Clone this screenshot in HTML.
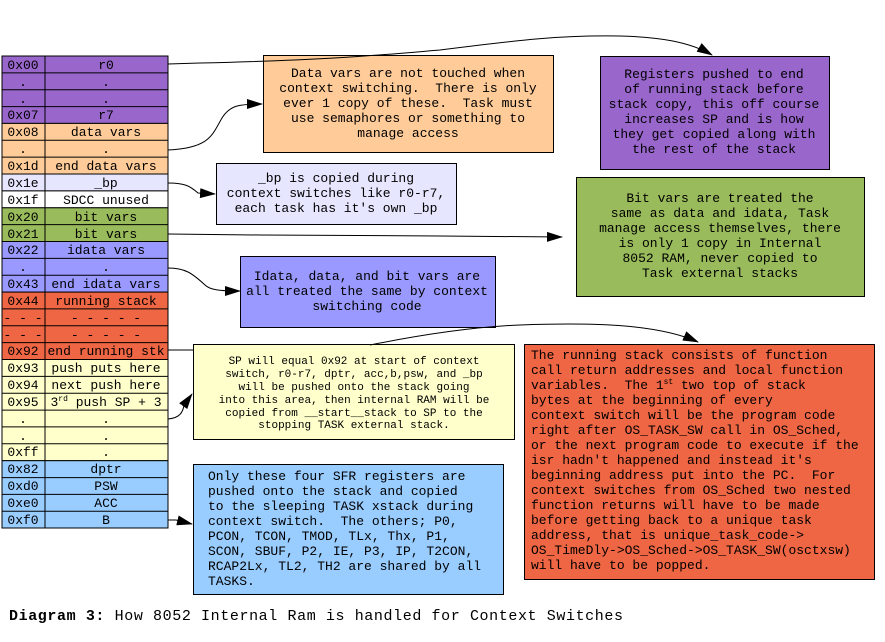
<!DOCTYPE html>
<html><head><meta charset="utf-8"><style>
html,body{margin:0;padding:0;background:#fff;}
svg{display:block;}
text{font-family:"Liberation Mono",monospace;font-size:13px;fill:#000;white-space:pre;}
.s{font-size:11px;}
</style></head><body>
<svg width="885" height="642" viewBox="0 0 885 642" xmlns="http://www.w3.org/2000/svg" xml:space="preserve">
<defs><marker id="a" markerWidth="16" markerHeight="10" refX="15" refY="5" orient="auto" markerUnits="userSpaceOnUse"><path d="M0,0 L16,5 L0,10 Z" fill="#000"/></marker></defs>
<g stroke="#000" stroke-width="1">
<rect x="2" y="56" width="166" height="67.4" fill="#9966cc"/>
<rect x="2" y="123.4" width="166" height="50.6" fill="#ffcc99"/>
<rect x="2" y="174" width="166" height="16.9" fill="#e6e6ff"/>
<rect x="2" y="190.9" width="166" height="16.9" fill="#ffffff"/>
<rect x="2" y="207.8" width="166" height="33.7" fill="#99bb5c"/>
<rect x="2" y="241.5" width="166" height="50.6" fill="#9999ff"/>
<rect x="2" y="292.1" width="166" height="67.4" fill="#ee6644"/>
<rect x="2" y="359.5" width="166" height="101.2" fill="#ffffcc"/>
<rect x="2" y="460.7" width="166" height="67.3" fill="#99ccff"/>
<line x1="45" y1="56" x2="45" y2="528"/>
</g>
<g stroke="#000" stroke-width="1">
<rect x="263.5" y="55.5" width="290" height="97" fill="#ffcc99"/>
<rect x="600.5" y="56.5" width="229" height="113" fill="#9966cc"/>
<rect x="216.5" y="163.5" width="240" height="61" fill="#e6e6ff"/>
<rect x="576.5" y="177.5" width="288" height="119" fill="#99bb5c"/>
<rect x="240.5" y="256.5" width="255" height="71" fill="#9999ff"/>
<rect x="193.5" y="344.5" width="321" height="95" fill="#ffffcc"/>
<rect x="524.5" y="344.5" width="350" height="235" fill="#ee6644"/>
<rect x="193.5" y="464.5" width="310" height="130" fill="#99ccff"/>
</g>
<g stroke="#000" stroke-width="1" fill="none">
<path d="M168,64 L200,63 C330,60 380,55 440,50 C520,40 560,35 620,36 C660,37 690,42 712,55" marker-end="url(#a)"/>
<path d="M168,150 C210,148 212,135 222,118 C230,105 240,104 262,104" marker-end="url(#a)"/>
<path d="M168,183 C185,183 190,186 198,193 L215,194" marker-end="url(#a)"/>
<path d="M168,234 L260,235 L440,236 L562,237" marker-end="url(#a)"/>
<path d="M168,268 C185,268 192,273 205,285 C210,290 220,291 240,291" marker-end="url(#a)"/>
<path d="M168,350 L193,350"/>
<path d="M370,345 C420,335 470,327 520,325 C600,322 660,325 698,342" marker-end="url(#a)"/>
<path d="M168,419 C180,418 183,412 184,405 L192,394" marker-end="url(#a)"/>
<path d="M168,520 L176,520 L192,524" marker-end="url(#a)"/>
</g>
<g text-anchor="middle">
<text x="23" y="69">0x00</text><text x="106" y="69">r0</text>
<text x="23" y="86">.</text><text x="106" y="86">.</text>
<text x="23" y="103">.</text><text x="106" y="103">.</text>
<text x="23" y="119">0x07</text><text x="106" y="119">r7</text>
<text x="23" y="136">0x08</text><text x="106" y="136">data vars</text>
<text x="23" y="153">.</text><text x="106" y="153">.</text>
<text x="23" y="170">0x1d</text><text x="106" y="170">end data vars</text>
<text x="23" y="187">0x1e</text><text x="106" y="187">_bp</text>
<text x="23" y="204">0x1f</text><text x="106" y="204">SDCC unused</text>
<text x="23" y="221">0x20</text><text x="106" y="221">bit vars</text>
<text x="23" y="238">0x21</text><text x="106" y="238">bit vars</text>
<text x="23" y="254">0x22</text><text x="106" y="254">idata vars</text>
<text x="23" y="271">.</text><text x="106" y="271">.</text>
<text x="23" y="288">0x43</text><text x="106" y="288">end idata vars</text>
<text x="23" y="305">0x44</text><text x="106" y="305">running stack</text>
<text x="23" y="322">- - -</text><text x="106" y="322">- - - - -</text>
<text x="23" y="339">- - -</text><text x="106" y="339">- - - - -</text>
<text x="23" y="355">0x92</text><text x="106" y="355">end running stk</text>
<text x="23" y="372">0x93</text><text x="106" y="372">push puts here</text>
<text x="23" y="389">0x94</text><text x="106" y="389">next push here</text>
<text x="23" y="406">0x95</text><text x="106" y="406">3<tspan font-size="8" dy="-5">rd</tspan><tspan dy="5"> push SP + 3</tspan></text>
<text x="23" y="423">.</text><text x="106" y="423">.</text>
<text x="23" y="440">.</text><text x="106" y="440">.</text>
<text x="23" y="456">0xff</text><text x="106" y="456">.</text>
<text x="23" y="473">0x82</text><text x="106" y="473">dptr</text>
<text x="23" y="490">0xd0</text><text x="106" y="490">PSW</text>
<text x="23" y="507">0xe0</text><text x="106" y="507">ACC</text>
<text x="23" y="524">0xf0</text><text x="106" y="524">B</text>
</g>
<g stroke="#000" stroke-width="1">
<line x1="2" y1="72.9" x2="168" y2="72.9"/><line x1="2" y1="89.7" x2="168" y2="89.7"/><line x1="2" y1="106.6" x2="168" y2="106.6"/>
<line x1="2" y1="140.3" x2="168" y2="140.3"/><line x1="2" y1="157.1" x2="168" y2="157.1"/>
<line x1="2" y1="224.6" x2="168" y2="224.6"/><line x1="2" y1="258.4" x2="168" y2="258.4"/><line x1="2" y1="275.2" x2="168" y2="275.2"/>
<line x1="2" y1="308.9" x2="168" y2="308.9"/><line x1="2" y1="325.8" x2="168" y2="325.8"/><line x1="2" y1="342.6" x2="168" y2="342.6"/>
<line x1="2" y1="376.4" x2="168" y2="376.4"/><line x1="2" y1="393.2" x2="168" y2="393.2"/><line x1="2" y1="410.1" x2="168" y2="410.1"/><line x1="2" y1="426.9" x2="168" y2="426.9"/><line x1="2" y1="443.8" x2="168" y2="443.8"/>
<line x1="2" y1="477.6" x2="168" y2="477.6"/><line x1="2" y1="494.4" x2="168" y2="494.4"/><line x1="2" y1="511.3" x2="168" y2="511.3"/>
</g>
<g text-anchor="middle">
<text x="408" y="77">Data vars are not touched when</text>
<text x="408" y="92">context switching.  There is only</text>
<text x="408" y="107">ever 1 copy of these.  Task must</text>
<text x="408" y="122">use semaphores or something to</text>
<text x="408" y="137">manage access</text>
<text x="714" y="78">Registers pushed to end</text>
<text x="714" y="93">of running stack before</text>
<text x="714" y="108">stack copy, this off course</text>
<text x="714" y="123">increases SP and is how</text>
<text x="714" y="138">they get copied along with</text>
<text x="714" y="153">the rest of the stack</text>
<text x="336" y="182">_bp is copied during</text>
<text x="336" y="197">context switches like r0-r7,</text>
<text x="336" y="212">each task has it's own _bp</text>
<text x="720" y="202">Bit vars are treated the</text>
<text x="720" y="217">same as data and idata, Task</text>
<text x="720" y="232">manage access themselves, there</text>
<text x="720" y="247">is only 1 copy in Internal</text>
<text x="720" y="262">8052 RAM, never copied to</text>
<text x="720" y="277">Task external stacks</text>
<text x="367" y="280">Idata, data, and bit vars are</text>
<text x="367" y="295">all treated the same by context</text>
<text x="367" y="310">switching code</text>
<text class="s" x="354" y="364">SP will equal 0x92 at start of context</text>
<text class="s" x="354" y="377">switch, r0-r7, dptr, acc,b,psw, and _bp</text>
<text class="s" x="354" y="390">will be pushed onto the stack going</text>
<text class="s" x="354" y="403">into this area, then internal RAM will be</text>
<text class="s" x="354" y="416">copied from __start__stack to SP to the</text>
<text class="s" x="354" y="428">stopping TASK external stack.</text>
</g>
<g>
<text x="531" y="359">The running stack consists of function</text>
<text x="531" y="374">call return addresses and local function</text>
<text x="531" y="389">variables.  The 1<tspan font-size="8" dy="-5">st</tspan><tspan dy="5"> two top of stack</tspan></text>
<text x="531" y="404">bytes at the beginning of every</text>
<text x="531" y="419">context switch will be the program code</text>
<text x="531" y="434">right after OS_TASK_SW call in OS_Sched,</text>
<text x="531" y="449">or the next program code to execute if the</text>
<text x="531" y="464">isr hadn't happened and instead it's</text>
<text x="531" y="479">beginning address put into the PC.  For</text>
<text x="531" y="494">context switches from OS_Sched two nested</text>
<text x="531" y="509">function returns will have to be made</text>
<text x="531" y="524">before getting back to a unique task</text>
<text x="531" y="539">address, that is unique_task_code-&gt;</text>
<text x="531" y="554">OS_TimeDly-&gt;OS_Sched-&gt;OS_TASK_SW(osctxsw)</text>
<text x="531" y="569">will have to be popped.</text>
<text x="208" y="480">Only these four SFR registers are</text>
<text x="208" y="495">pushed onto the stack and copied</text>
<text x="208" y="510">to the sleeping TASK xstack during</text>
<text x="208" y="525">context switch.  The others; P0,</text>
<text x="208" y="540">PCON, TCON, TMOD, TLx, Thx, P1,</text>
<text x="208" y="555">SCON, SBUF, P2, IE, P3, IP, T2CON,</text>
<text x="208" y="570">RCAP2Lx, TL2, TH2 are shared by all</text>
<text x="208" y="585">TASKS.</text>
<text x="9" y="620" style="font-size:15px" textLength="614" lengthAdjust="spacing"><tspan font-weight="bold">Diagram 3:</tspan> How 8052 Internal Ram is handled for Context Switches</text>
</g>
</svg>
</body></html>
